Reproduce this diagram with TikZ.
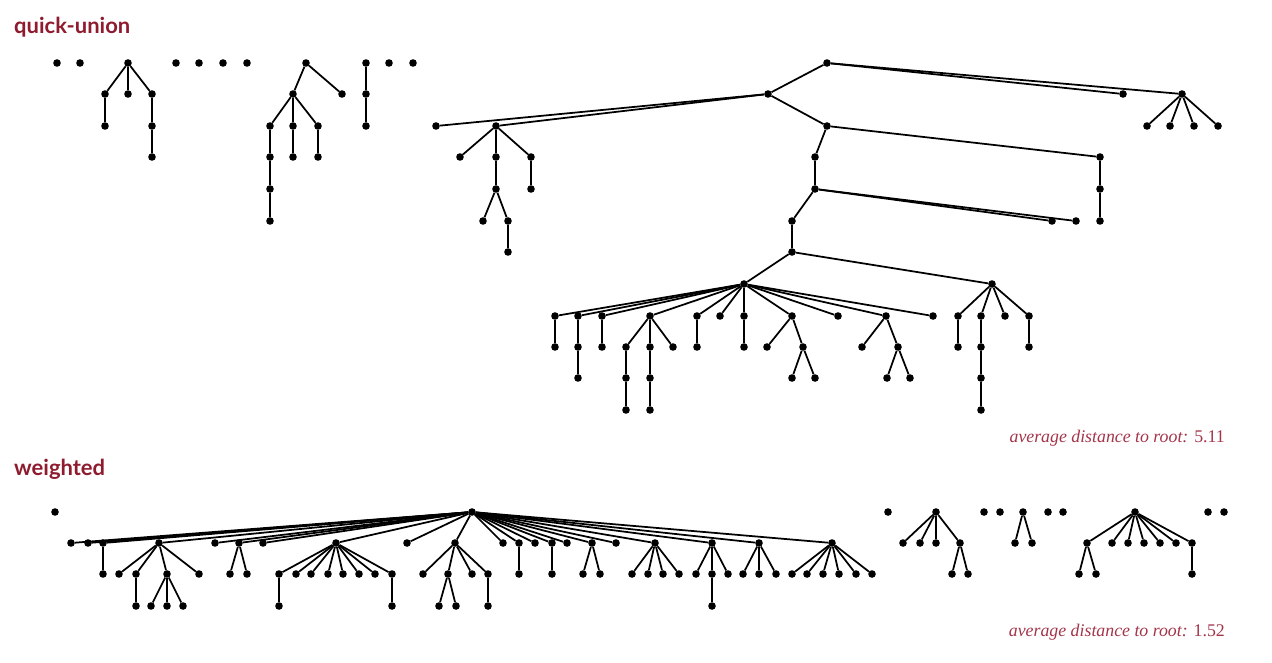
\documentclass[tikz,border=0pt]{standalone}
\usepackage{fontspec}
\usepackage{xcolor}
\usepackage{tikz}
\usetikzlibrary{positioning}
\newfontfamily\titrefont{Lato}
\newfontfamily\moyfont{Liberation Serif}
\definecolor{bookred}{HTML}{8E1B2E}
\definecolor{bookrose}{HTML}{A3344A}

\begin{document}
\begin{tikzpicture}[
    x=1pt,y=-1pt,
    pt/.style    = {circle, fill=black, inner sep=0pt, minimum size=7.6pt},
    lien/.style  = {black, line width=1.75pt},
    titre/.style = {font=\titrefont\bfseries\fontsize{22}{26}\selectfont,
                    text=bookred, anchor=base west, inner sep=0pt},
    moy/.style   = {font=\moyfont\fontsize{17.8}{21}\selectfont,
                    text=bookrose, anchor=base east, inner sep=0pt},
  ]

  \useasboundingbox (0,0) rectangle (1272,662);

  \node[titre] (tqu) at (14,33)  {quick-union};
  \node[titre] (twe) at (14,475) {weighted};

  % quick-union forest
  \foreach \r/\x in {q1/57,q2/80,q3/128,q4/176,q5/199,q6/223,q7/247,
                     q8/306,q9/366,q10/389,q11/413,q12/827}
    \node[pt] (\r) at (\x,63) {};

  \foreach \p/\c/\x/\y in {
      q3/q3a/105/94, q3/q3b/128/94, q3/q3c/152/94, q3a/q3d/105/126,
      q3c/q3e/152/126, q3e/q3f/152/157,
      q8/q8a/293/94, q8/q8b/342/94, q8a/q8c/270/126, q8a/q8d/293/126,
      q8a/q8e/318/126, q8c/q8f/270/157, q8f/q8g/270/189, q8g/q8h/270/221,
      q8d/q8i/293/157, q8e/q8j/318/157,
      q9/q9a/366/94, q9a/q9b/366/126,
      q12/ra/768/94, q12/rb/1123/94, q12/rc/1182/94,
      rc/rc1/1147/126, rc/rc2/1170/126, rc/rc3/1194/126, rc/rc4/1218/126,
      ra/rd/436/126, ra/re/496/126, ra/rf/827/126,
      re/re1/460/157, re/re2/496/157, re/re3/531/157, re3/re4/531/189,
      re2/re5/496/189, re5/re6/483/221, re5/re7/508/221, re7/re8/508/252,
      rf/rg/815/157, rf/rh/1100/157, rh/rh1/1100/189, rh1/rh2/1100/221,
      rg/ri/815/189, ri/rj/792/221, ri/rk/1052/221, ri/rl/1076/221,
      rj/rm/792/252, rm/rn/744/284, rm/ro/992/284,
      rn/n1/555/316, rn/n2/578/316, rn/n3/602/316, rn/n4/650/316,
      rn/n5/697/316, rn/n6/720/316, rn/n7/744/316, rn/n8/792/316,
      rn/n9/838/316, rn/n10/886/316, rn/n11/933/316,
      n1/n1a/555/347, n2/n2a/578/347, n2a/n2b/578/378, n3/n3a/602/347,
      n4/n4a/626/347, n4/n4b/650/347, n4/n4c/673/347, n4a/n4d/626/378,
      n4d/n4e/626/410, n4b/n4f/650/378, n4f/n4g/650/410,
      n5/n5a/697/347, n7/n7a/744/347,
      n8/n8a/767/347, n8/n8b/803/347, n8b/n8c/792/378, n8b/n8d/815/378,
      n10/n10a/862/347, n10/n10b/898/347, n10b/n10c/887/378, n10b/n10d/910/378,
      ro/o1/958/316, ro/o2/981/316, ro/o3/1005/316, ro/o4/1029/316,
      o1/o1a/958/347, o2/o2a/981/347, o2a/o2b/981/378, o2b/o2c/981/410,
      o4/o4a/1029/347}
    {\node[pt] (\c) at (\x,\y) {};
     \draw[lien] (\p) -- (\c);}

  \node[moy] (mqu) at (1225,442)
       {{\itshape average distance to root:} 5.11};

  % weighted forest
  \foreach \r/\x in {w1/55,w2/472,w3/888,w4/936,w5/984,w6/1000,w7/1023,
                     w8/1048,w9/1063,w10/1135,w11/1208,w12/1224}
    \node[pt] (\r) at (\x,512) {};

  \foreach \p/\c/\x/\y in {
      w2/a1/71/543, w2/a2/88/543, w2/a3/103/543, w2/a4/159/543,
      w2/a5/215/543, w2/a6/239/543, w2/a7/263/543, w2/a8/336/543,
      w2/a9/407/543, w2/a10/455/543, w2/a11/503/543, w2/a12/519/543,
      w2/a13/535/543, w2/a14/552/543, w2/a15/567/543, w2/a16/592/543,
      w2/a17/616/543, w2/a18/655/543, w2/a19/712/543, w2/a20/759/543,
      w2/a21/832/543,
      a3/b1/103/574,
      a4/b2/119/574, a4/b3/136/574, a4/b4/167/574, a4/b5/199/574,
      b3/b6/136/606, b4/b7/151/606, b4/b8/167/606, b4/b9/183/606,
      a6/b10/230/574, a6/b11/247/574,
      a8/c1/279/574, a8/c2/296/574, a8/c3/311/574, a8/c4/328/574,
      a8/c5/343/574, a8/c6/359/574, a8/c7/375/574, a8/c8/392/574,
      c1/c9/279/606, c8/c10/392/606,
      a10/d1/423/574, a10/d2/448/574, a10/d3/472/574, a10/d4/488/574,
      d2/d5/439/606, d2/d6/456/606, d4/d7/488/606,
      a12/e1/519/574, a14/e2/552/574, a16/e3/583/574, a16/e4/600/574,
      a18/f1/632/574, a18/f2/648/574, a18/f3/663/574, a18/f4/679/574,
      a19/f5/696/574, a19/f6/712/574, a19/f7/728/574, f6/f8/712/606,
      a20/g1/743/574, a20/g2/759/574, a20/g3/776/574,
      a21/g4/792/574, a21/g5/807/574, a21/g6/823/574, a21/g7/839/574,
      a21/g8/856/574, a21/g9/872/574,
      w4/h1/903/543, w4/h2/920/543, w4/h3/936/543, w4/h4/960/543,
      h4/h5/952/574, h4/h6/968/574,
      w7/h7/1015/543, w7/h8/1032/543,
      w10/k1/1087/543, w10/k2/1112/543, w10/k3/1128/543, w10/k4/1144/543,
      w10/k5/1160/543, w10/k6/1176/543, w10/k7/1192/543,
      k1/k8/1079/574, k1/k9/1096/574, k7/k10/1192/574}
    {\node[pt] (\c) at (\x,\y) {};
     \draw[lien] (\p) -- (\c);}

  \node[moy] (mwe) at (1225,636)
       {{\itshape average distance to root:} 1.52};

\end{tikzpicture}
\end{document}
